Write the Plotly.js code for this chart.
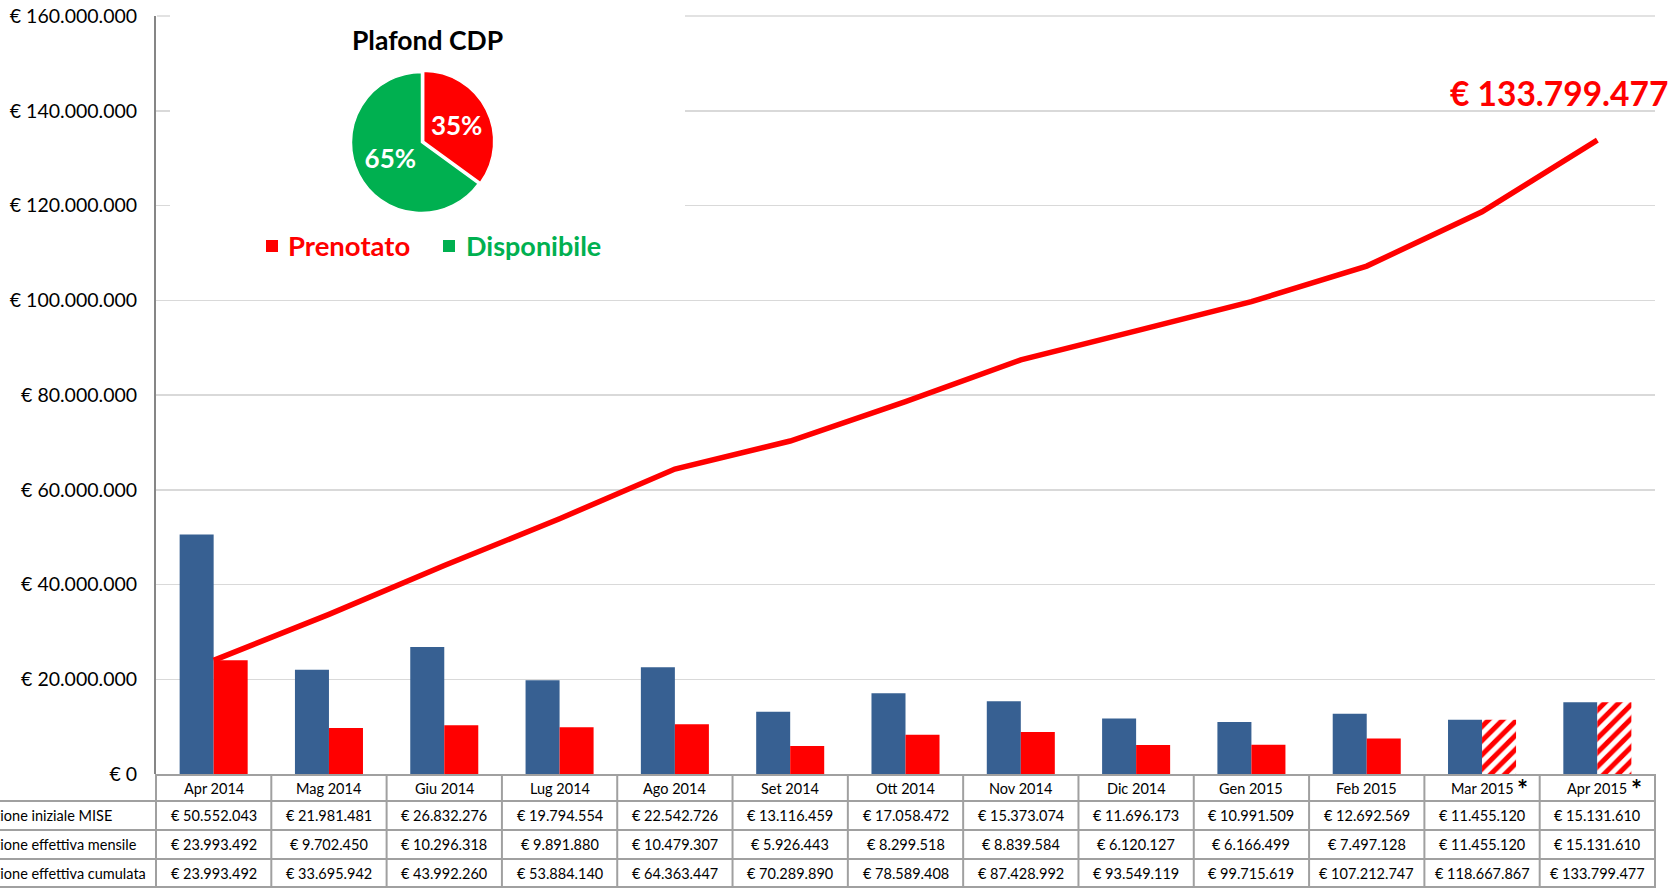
<!DOCTYPE html>
<html>
<head>
<meta charset="utf-8">
<script src="https://cdn.plot.ly/plotly-3.0.1.min.js"></script>
<style>
  html, body { margin: 0; padding: 0; background: #ffffff; }
  #chart { width: 1680px; height: 888px; }
</style>
</head>
<body>
<div id="chart"></div>
<script>
// ---------------- DATA ----------------
const categories = ['Apr 2014','Mag 2014','Giu 2014','Lug 2014','Ago 2014','Set 2014','Ott 2014','Nov 2014','Dic 2014','Gen 2015','Feb 2015','Mar 2015','Apr 2015'];
const provisional = [false,false,false,false,false,false,false,false,false,false,false,true,true];
const prenotazioneInizialeMISE = [50552043,21981481,26832276,19794554,22542726,13116459,17058472,15373074,11696173,10991509,12692569,11455120,15131610];
const prenotazioneEffettivaMensile = [23993492,9702450,10296318,9891880,10479307,5926443,8299518,8839584,6120127,6166499,7497128,11455120,15131610];
const prenotazioneEffettivaCumulata = [23993492,33695942,43992260,53884140,64363447,70289890,78589408,87428992,93549119,99715619,107212747,118667867,133799477];
const rowLabels = ['Prenotazione iniziale MISE','Prenotazione effettiva mensile','Prenotazione effettiva cumulata'];
const pieTitle = 'Plafond CDP';
const pieLabels = ['Prenotato','Disponibile'];
const pieValues = [35,65];

// ---------------- LAYOUT CONSTANTS ----------------
const W = 1680, H = 888;
const PL = 156, PR = 1655, PT = 16, PB = 774;
const PW = PR - PL, PH = PB - PT;
const px2x = p => (p - PL) / PW;
const py2y = p => (PB - p) / PH;
const FONT = 'Lato, Carlito, "Open Sans", sans-serif';
const BLUE = '#376092', RED = '#FF0000', GREEN = '#00B050';
const TABLE_LINE = '#A0A0A0', GRID = '#D9D9D9';

const fmt = n => n.toString().replace(/\B(?=(\d{3})+(?!\d))/g, '.');
const euro = n => '€ ' + fmt(n);

// ---------------- TRACES ----------------
const nCat = categories.length;
const barBlue = {
  type: 'bar', x: categories, y: prenotazioneInizialeMISE,
  marker: { color: BLUE, line: { width: 0 } },
  hoverinfo: 'skip', showlegend: false
};
const barRed = {
  type: 'bar', x: categories, y: prenotazioneEffettivaMensile,
  marker: {
    color: RED, line: { width: 0 },
    pattern: {
      shape: provisional.map(p => p ? '/' : ''),
      fgcolor: RED, bgcolor: '#ffffff', size: 10, solidity: 0.5, fillmode: 'replace'
    }
  },
  hoverinfo: 'skip', showlegend: false
};
const lineCum = {
  type: 'scatter', mode: 'lines', x: categories, y: prenotazioneEffettivaCumulata,
  line: { color: RED, width: 5.5 },
  hoverinfo: 'skip', showlegend: false
};
const pie = {
  type: 'pie', labels: pieLabels, values: pieValues, sort: false, direction: 'clockwise', rotation: 0,
  marker: { colors: [RED, GREEN], line: { color: '#ffffff', width: 1.5 } },
  pull: [0.035, 0],
  textinfo: 'percent', textposition: 'inside', insidetextorientation: 'horizontal',
  textfont: { family: FONT, size: 26, color: '#ffffff', weight: 'bold' },
  domain: { x: [px2x(349), px2x(494)], y: [py2y(215), py2y(70)] },
  hoverinfo: 'skip', showlegend: false
};

// ---------------- SHAPES ----------------
const shapes = [];
// white panel behind the pie (covers gridlines)
shapes.push({
  type: 'rect', layer: 'between', xref: 'x', yref: 'y',
  x0: (170 - PL) / (PW / nCat) - 0.5, x1: (685 - PL) / (PW / nCat) - 0.5,
  y0: 160e6 * py2y(265), y1: 170e6,
  fillcolor: '#ffffff', line: { width: 0 }
});
// top gridline (at the upper end of the range), interrupted by the pie panel
shapes.push({ type: 'line', layer: 'above', xref: 'paper', yref: 'paper', x0: px2x(157), x1: px2x(170), y0: 1, y1: 1, line: { color: GRID, width: 1.5 } });
shapes.push({ type: 'line', layer: 'above', xref: 'paper', yref: 'paper', x0: px2x(685), x1: 1, y0: 1, y1: 1, line: { color: GRID, width: 1.5 } });
// table horizontal lines
const rowY = [775, 801, 830, 859, 887];
rowY.forEach((yy, i) => {
  shapes.push({
    type: 'line', xref: 'paper', yref: 'paper',
    x0: i === 0 ? 0 : px2x(0), x1: 1, y0: py2y(yy), y1: py2y(yy),
    line: { color: TABLE_LINE, width: 2 }
  });
});
// table vertical lines
for (let k = 0; k <= nCat; k++) {
  shapes.push({
    type: 'line', xref: 'paper', yref: 'paper',
    x0: k / nCat, x1: k / nCat, y0: py2y(774), y1: py2y(888),
    line: { color: TABLE_LINE, width: 2 }
  });
}
// pie legend squares
shapes.push({ type: 'rect', xref: 'paper', yref: 'paper', x0: px2x(266), x1: px2x(278), y0: py2y(252), y1: py2y(240), fillcolor: RED, line: { width: 0 } });
shapes.push({ type: 'rect', xref: 'paper', yref: 'paper', x0: px2x(443), x1: px2x(455), y0: py2y(252), y1: py2y(240), fillcolor: GREEN, line: { width: 0 } });

// ---------------- ANNOTATIONS ----------------
const annotations = [];
const cellFont = { family: FONT, size: 14.5, color: '#000000' };
const headerY = py2y(788);
const dataRowsY = [py2y(815.5), py2y(844.5), py2y(873)];
const cv = document.createElement('canvas').getContext('2d');
cv.font = '14.5px Lato';
categories.forEach((c, i) => {
  const xc = (i + 0.5) / nCat;
  annotations.push({
    xref: 'paper', yref: 'paper', x: xc, y: headerY, xanchor: 'center', yanchor: 'middle',
    text: c, showarrow: false, font: cellFont
  });
  if (provisional[i]) {
    const half = cv.measureText(c).width / 2;
    annotations.push({
      xref: 'paper', yref: 'paper', x: xc, xshift: half + 1, y: py2y(789), xanchor: 'left', yanchor: 'middle',
      text: '<b>*</b>', showarrow: false, font: { family: FONT, size: 26, color: '#000000' }
    });
  }
  [prenotazioneInizialeMISE, prenotazioneEffettivaMensile, prenotazioneEffettivaCumulata].forEach((arr, r) => {
    annotations.push({
      xref: 'paper', yref: 'paper', x: xc, y: dataRowsY[r], xanchor: 'center', yanchor: 'middle',
      text: euro(arr[i]), showarrow: false, font: cellFont
    });
  });
});
// row labels (left part runs past the page edge, as in the reference)
const prefixW = cv.measureText('Prenotaz').width;
rowLabels.forEach((t, r) => {
  annotations.push({
    xref: 'paper', yref: 'paper', x: 0, xshift: -PL - prefixW - 2, y: dataRowsY[r],
    xanchor: 'left', yanchor: 'middle', text: t, showarrow: false, font: cellFont
  });
});
// pie title
annotations.push({
  xref: 'paper', yref: 'paper', x: px2x(427), y: py2y(40), xanchor: 'center', yanchor: 'middle',
  text: '<b>' + pieTitle + '</b>', showarrow: false, font: { family: FONT, size: 26.5, color: '#000000' }
});
// pie legend labels
annotations.push({
  xref: 'paper', yref: 'paper', x: px2x(286), y: py2y(246), xanchor: 'left', yanchor: 'middle',
  text: '<b>' + pieLabels[0] + '</b>', showarrow: false, font: { family: FONT, size: 27.5, color: RED }
});
annotations.push({
  xref: 'paper', yref: 'paper', x: px2x(464), y: py2y(246), xanchor: 'left', yanchor: 'middle',
  text: '<b>' + pieLabels[1] + '</b>', showarrow: false, font: { family: FONT, size: 27, color: GREEN }
});
// final cumulative value label
annotations.push({
  xref: 'paper', yref: 'paper', x: px2x(1670), y: py2y(93), xanchor: 'right', yanchor: 'middle',
  text: '<b>' + euro(prenotazioneEffettivaCumulata[nCat - 1]) + '</b>', showarrow: false,
  font: { family: FONT, size: 33.5, color: RED }
});

const layout = {
  width: W, height: H,
  margin: { l: PL, r: W - PR, t: PT, b: H - PB, pad: 0 },
  paper_bgcolor: '#ffffff', plot_bgcolor: '#ffffff',
  separators: ',.',
  barmode: 'group', bargap: 0.41, bargroupgap: 0,
  showlegend: false,
  font: { family: FONT, color: '#000000' },
  xaxis: {
    type: 'category', range: [-0.5, nCat - 0.5], showticklabels: false, ticks: '',
    showgrid: false, zeroline: false, showline: false, fixedrange: true
  },
  yaxis: {
    range: [0, 160e6], dtick: 20e6, tick0: 0, tickformat: ',d', tickprefix: '€ ',
    showline: true, linecolor: '#868686', linewidth: 2,
    gridcolor: GRID, gridwidth: 1.5, zeroline: false, ticks: '',
    ticklabelstandoff: 13,
    tickfont: { family: FONT, size: 19.5, color: '#000000' }, fixedrange: true
  },
  shapes: shapes,
  annotations: annotations
};

Plotly.newPlot('chart', [barBlue, barRed, lineCum, pie], layout, { displayModeBar: false, staticPlot: true });
</script>
</body>
</html>
